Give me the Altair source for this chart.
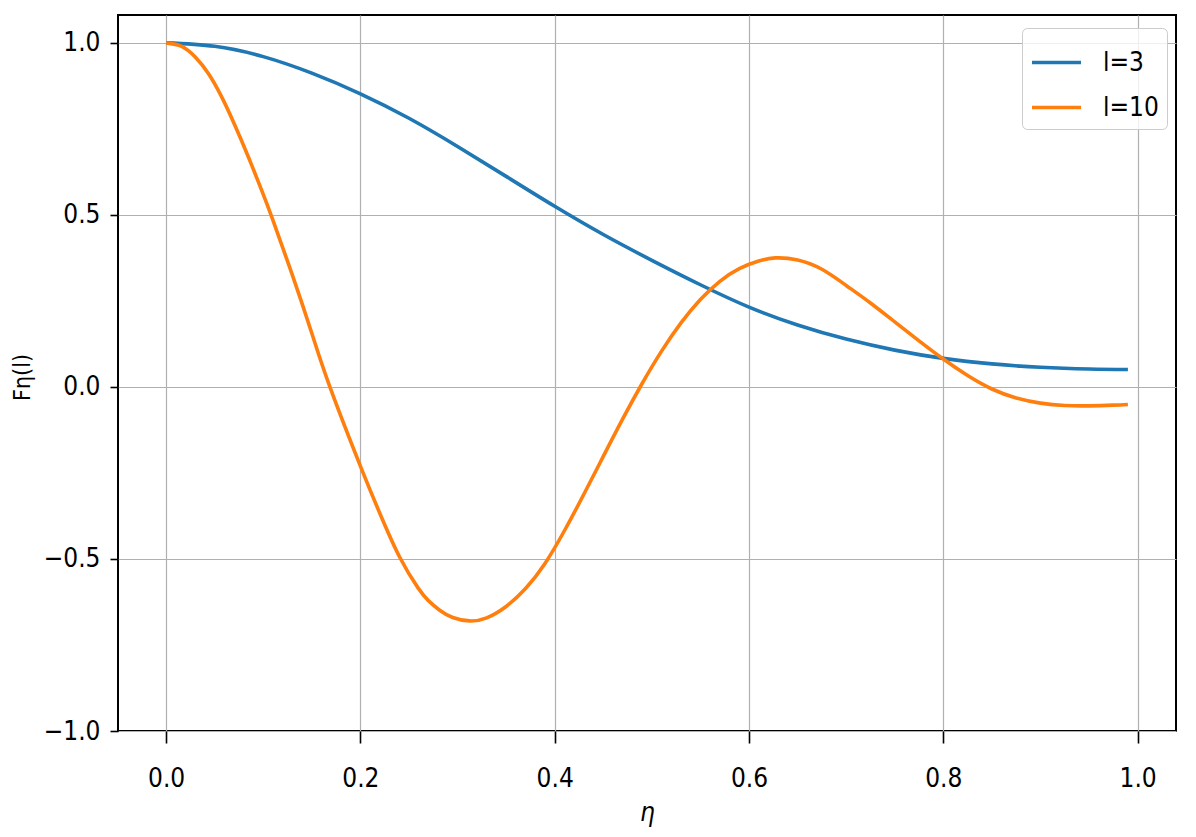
import altair as alt
import pandas as pd

# l = 3 curve
eta_l3 = [0.0, 0.05, 0.1, 0.15, 0.2, 0.25, 0.3, 0.35, 0.4, 0.45, 0.5,
          0.55, 0.6, 0.65, 0.7, 0.75, 0.8, 0.85, 0.9, 0.95, 0.99]
f_l3 = [1.0, 0.99, 0.96, 0.912, 0.852, 0.781, 0.699, 0.612, 0.525, 0.443, 0.368,
        0.297, 0.232, 0.180, 0.139, 0.107, 0.083, 0.067, 0.057, 0.052, 0.0505]

# l = 10 curve
eta_l10 = [0.0, 0.016, 0.03, 0.0435, 0.0572, 0.0709, 0.0846, 0.0983, 0.1093, 0.13,
           0.15, 0.1686, 0.2, 0.2216, 0.2405, 0.2593, 0.27, 0.2816, 0.295, 0.3124,
           0.33, 0.35, 0.37, 0.39, 0.41, 0.43, 0.45, 0.47, 0.49, 0.51, 0.53, 0.55,
           0.57, 0.59, 0.61, 0.627, 0.65, 0.675, 0.70, 0.725, 0.75, 0.775, 0.80,
           0.825, 0.85, 0.875, 0.90, 0.925, 0.95, 0.975, 0.99]
f_l10 = [1.0, 0.99, 0.959, 0.911, 0.843, 0.76, 0.669, 0.572, 0.49, 0.325,
         0.156, 0.0, -0.23, -0.378, -0.495, -0.584, -0.621, -0.649, -0.670, -0.68,
         -0.671, -0.638, -0.586, -0.513, -0.418, -0.312, -0.202, -0.093, 0.010, 0.104,
         0.186, 0.254, 0.307, 0.344, 0.366, 0.375, 0.369, 0.342, 0.295, 0.244, 0.189,
         0.134, 0.081, 0.033, -0.006, -0.032, -0.047, -0.054, -0.055, -0.053, -0.051]

series_names = ["l=3", "l=10"]
series_colors = ["#1f77b4", "#ff7f0e"]
x_ticks = [0.0, 0.2, 0.4, 0.6, 0.8, 1.0]
y_ticks = [-1.0, -0.5, 0.0, 0.5, 1.0]

df = pd.concat([
    pd.DataFrame({"eta": eta_l3, "F": f_l3, "series": series_names[0], "k": 0}),
    pd.DataFrame({"eta": eta_l10, "F": f_l10, "series": series_names[1], "k": 1}),
], ignore_index=True)

FONT = "Liberation Sans Narrow, DejaVu Sans Condensed, sans-serif"

chart = alt.Chart(df).mark_line(strokeWidth=3.6, interpolate="natural").encode(
    x=alt.X("eta:Q",
            scale=alt.Scale(domain=[-0.0495, 1.0395], nice=False, zero=False),
            axis=alt.Axis(values=x_ticks, format=".1f", title="η", tickSize=12,
                          labelPadding=22, titleFontStyle="italic",
                          titleY=81, titleBaseline="middle", titleFontSize=26)),
    y=alt.Y("F:Q",
            scale=alt.Scale(domain=[-1.0, 1.081], nice=False, zero=False),
            axis=alt.Axis(values=y_ticks, format=".1f", title="Fη(l)", tickSize=8,
                          labelPadding=10, titleX=-89, titleY=362, titleAngle=270,
                          titleBaseline="alphabetic", titleFontSize=23)),
    color=alt.Color("series:N",
                    scale=alt.Scale(domain=series_names, range=series_colors),
                    legend=alt.Legend(title=None, orient="none", legendX=904, legendY=13,
                                      symbolType="stroke", symbolSize=2400,
                                      symbolStrokeWidth=3.6, labelFont=FONT,
                                      labelFontSize=26, labelOffset=20, padding=8,
                                      rowPadding=5, fillColor="rgba(255,255,255,0.8)",
                                      strokeColor="#cccccc", cornerRadius=5,
                                      labelColor="#000000")),
    detail="k:N",
).properties(
    width=1058, height=716,
    padding={"left": 110, "top": 7, "right": 12, "bottom": 96},
    autosize=alt.AutoSizeParams(type="none"),
).configure_view(
    stroke="#000000", strokeWidth=2
).configure_axis(
    domain=False, grid=True, gridColor="#b0b0b0", gridWidth=1.2,
    tickColor="#000000", tickWidth=1.6,
    labelFont=FONT, labelFontSize=26, labelColor="#000000",
    titleFont=FONT, titleColor="#000000", titleFontWeight="normal",
)

chart.save("out.html", embed_options={"renderer": "svg", "actions": False})
